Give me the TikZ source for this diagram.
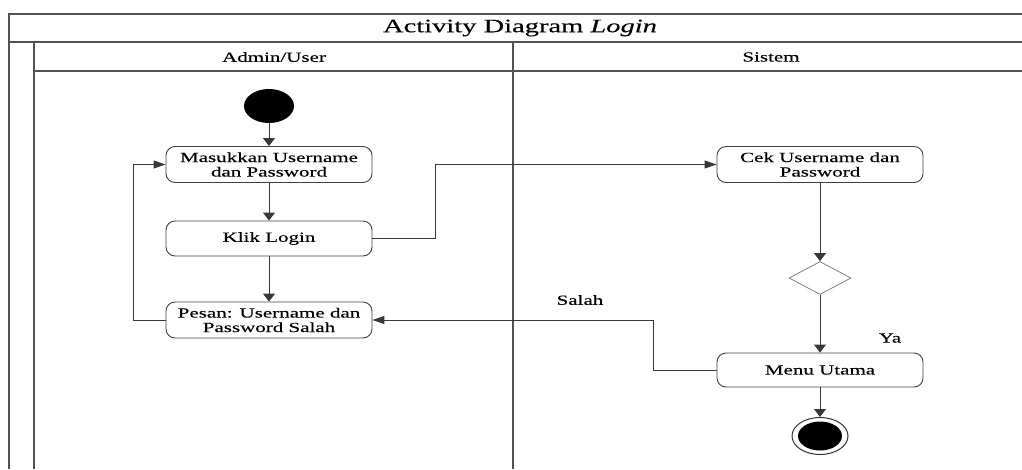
\documentclass[tikz,border=0pt]{standalone}
\usepackage{fontspec}
\setmainfont{Liberation Serif}[FakeStretch=1.5,FakeBold=0.3]
\usetikzlibrary{arrows.meta,shapes.geometric}

\begin{document}
\begin{tikzpicture}[x=1pt,y=-1pt,
  frameline/.style={draw=black!68,line width=1.4pt},
  lanetext/.style={font=\fontsize{14}{14.5}\selectfont,inner sep=0pt},
  act/.style={draw=black!75,line width=0.9pt,rounded corners=9pt,
    minimum width=206pt,minimum height=36pt,inner sep=0pt,align=center,
    font=\fontsize{14}{14.5}\selectfont},
  flow/.style={draw=black!78,line width=1pt},
  vtip/.style={-{Triangle[length=8pt,width=12pt]}},
  htip/.style={-{Triangle[length=12pt,width=8pt]}},
  guard/.style={font=\fontsize{14}{14.5}\selectfont,inner sep=0pt},
]
\useasboundingbox (0,0) rectangle (1022,469);

% swimlane frame
\draw[frameline] (1022,14) -- (9,14) -- (9,469);
\draw[frameline] (9,42) -- (1022,42);
\draw[frameline] (34,42) -- (34,469);
\draw[frameline] (34,71) -- (1022,71);
\draw[frameline] (513,42) -- (513,469);

\node[font=\fontsize{19}{20}\selectfont,inner sep=0pt] (title) at (520,28) {Activity Diagram \textit{Login}};
\node[lanetext] (laneA) at (274,57) {Admin/User};
\node[lanetext] (laneB) at (771,57) {Sistem};

% activities
\node[ellipse,fill=black,minimum width=50pt,minimum height=34pt,inner sep=0pt] (start) at (269,106) {};
\node[act] (masuk) at (269,164.5) {Masukkan Username\\dan Password};
\node[act,minimum height=35pt] (klik) at (269,238.5) {Klik Login};
\node[act] (pesan) at (269,320) {Pesan: Username dan\\Password Salah};
\node[act] (cek) at (820,164.5) {Cek Username dan\\Password};
\node[diamond,draw=black!50,line width=0.8pt,minimum width=62pt,minimum height=33pt,inner sep=0pt] (dec) at (820,278) {};
\node[act,minimum height=34pt] (menu) at (820,370) {Menu Utama};
\node[ellipse,draw=black!80,line width=1pt,minimum width=56pt,minimum height=37pt,inner sep=0pt] (stop) at (820,436) {};
\node[ellipse,fill=black,minimum width=44pt,minimum height=29pt,inner sep=0pt] (stopin) at (stop) {};

\coordinate (loopL1) at (133,320);
\coordinate (loopL2) at (133,164.5);
\coordinate (jmp1) at (435,238.5);
\coordinate (jmp2) at (435,164.5);
\coordinate (back1) at (653,370);
\coordinate (back2) at (653,320);

% flows
\draw[flow,vtip] (start) -- (masuk);
\draw[flow,vtip] (masuk) -- (klik);
\draw[flow,vtip] (klik) -- (pesan);
\draw[flow,htip] (pesan.west) -- (loopL1) -- (loopL2) -- (masuk.west);
\draw[flow,htip] (klik.east) -- (jmp1) -- (jmp2) -- (cek.west);
\draw[flow,vtip] (cek) -- (dec);
\draw[flow,vtip] (dec) -- (menu);
\draw[flow,htip] (menu.west) -- (back1) -- (back2) -- (pesan.east);
\draw[flow,vtip] (menu) -- (stop);

\node[guard] (ya) at (890,338) {Ya};
\node[guard] (salah) at (580,300) {Salah};
\end{tikzpicture}
\end{document}
